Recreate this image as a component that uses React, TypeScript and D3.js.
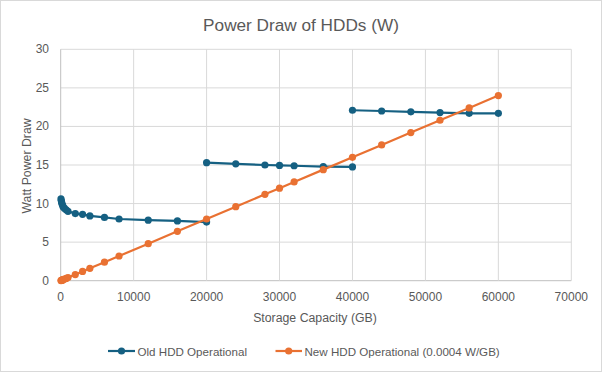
import React from 'react';
import * as d3 from 'd3';

// storage sizes (GB) and power draw (W)
const oldSizes1 = [40, 80, 120, 160, 250, 320, 500, 750, 1000, 2000, 3000, 4000, 6000, 8000, 12000, 16000, 20000];
const oldWatts1 = [10.6, 10.4, 10.2, 10.0, 9.8, 9.6, 9.4, 9.2, 9.0, 8.7, 8.6, 8.4, 8.2, 8.0, 7.85, 7.75, 7.6];
const oldSizes2 = [20000, 24000, 28000, 30000, 32000, 36000, 40000];
const oldWatts2 = [15.3, 15.15, 15.0, 14.95, 14.9, 14.8, 14.75];
const oldSizes3 = [40000, 44000, 48000, 52000, 56000, 60000];
const oldWatts3 = [22.1, 22.0, 21.9, 21.8, 21.7, 21.7];

const newSizes = [40, 80, 120, 160, 250, 320, 500, 750, 1000, 2000, 3000, 4000, 6000, 8000, 12000, 16000, 20000,
  24000, 28000, 30000, 32000, 36000, 40000, 44000, 48000, 52000, 56000, 60000];
const newWatts = [0.016, 0.032, 0.048, 0.064, 0.1, 0.128, 0.2, 0.3, 0.4, 0.8, 1.2, 1.6, 2.4, 3.2, 4.8, 6.4, 8,
  9.6, 11.2, 12, 12.8, 14.4, 16, 17.6, 19.2, 20.8, 22.4, 24];

const xTicks = [0, 10000, 20000, 30000, 40000, 50000, 60000, 70000];
const yTicks = [0, 5, 10, 15, 20, 25, 30];

const seriesNames = ['Old HDD Operational', 'New HDD Operational (0.0004 W/GB)'];
const blue = '#156082';
const orange = '#E97132';
const font = '"Liberation Sans", Arial, sans-serif';
const textColor = '#595959';

const zip = (xs: number[], ys: number[]) => xs.map((x, i) => [x, ys[i]] as [number, number]);

export default function App() {
  const W = 602, H = 372;
  const x = d3.scaleLinear().domain([0, 70000]).range([60.7, 571.3]);
  const y = d3.scaleLinear().domain([0, 30]).range([280.7, 49.3]);

  const line = d3.line<[number, number]>()
    .x(d => x(d[0]))
    .y(d => y(d[1]));

  const oldSegs = [zip(oldSizes1, oldWatts1), zip(oldSizes2, oldWatts2), zip(oldSizes3, oldWatts3)];
  const newPts = zip(newSizes, newWatts);

  return (
    <svg width={W} height={H} style={{ position: 'absolute', left: 0, top: 0, fontFamily: font }}>
      <rect x={0.5} y={0.5} width={W - 1} height={H - 1} fill="#fff" stroke="#d9d9d9" />
      <text x={301} y={31} textAnchor="middle" fontSize={17.2} fill={textColor}>Power Draw of HDDs (W)</text>

      {/* grid */}
      {yTicks.map(t => (
        <line key={'gy' + t} x1={x(0)} x2={x(70000)} y1={y(t)} y2={y(t)} stroke={t === 0 ? '#bfbfbf' : '#d9d9d9'} />
      ))}
      {xTicks.map(t => (
        <line key={'gx' + t} x1={x(t)} x2={x(t)} y1={y(0)} y2={y(30)} stroke={t === 0 ? '#bfbfbf' : '#d9d9d9'} />
      ))}

      {/* tick labels */}
      {yTicks.map(t => (
        <text key={'ly' + t} x={49} y={y(t) + 4} textAnchor="end" fontSize={12} fill={textColor}>{t}</text>
      ))}
      {xTicks.map(t => (
        <text key={'lx' + t} x={x(t)} y={301} textAnchor="middle" fontSize={12} fill={textColor}>{t}</text>
      ))}

      <text x={315} y={322} textAnchor="middle" fontSize={12.3} fill={textColor}>Storage Capacity (GB)</text>
      <text transform="translate(31,166) rotate(-90)" textAnchor="middle" fontSize={12.3} fill={textColor}>Watt Power Draw</text>

      {/* old series */}
      {oldSegs.map((seg, i) => (
        <path key={'os' + i} d={line(seg) || ''} fill="none" stroke={blue} strokeWidth={2.2} />
      ))}
      {oldSegs.flat().map((d, i) => (
        <circle key={'oc' + i} cx={x(d[0])} cy={y(d[1])} r={3.6} fill={blue} />
      ))}

      {/* new series */}
      <path d={line(newPts) || ''} fill="none" stroke={orange} strokeWidth={2.2} />
      {newPts.map((d, i) => (
        <circle key={'nc' + i} cx={x(d[0])} cy={y(d[1])} r={3.6} fill={orange} />
      ))}

      {/* legend */}
      <g>
        <line x1={108} x2={135} y1={351} y2={351} stroke={blue} strokeWidth={2.2} />
        <circle cx={121.5} cy={351} r={3.6} fill={blue} />
        <text x={137.5} y={355.5} fontSize={11.6} fill={textColor}>{seriesNames[0]}</text>
        <line x1={275.5} x2={302} y1={351} y2={351} stroke={orange} strokeWidth={2.2} />
        <circle cx={288.7} cy={351} r={3.6} fill={orange} />
        <text x={304.5} y={355.5} fontSize={11.6} fill={textColor}>{seriesNames[1]}</text>
      </g>
    </svg>
  );
}
